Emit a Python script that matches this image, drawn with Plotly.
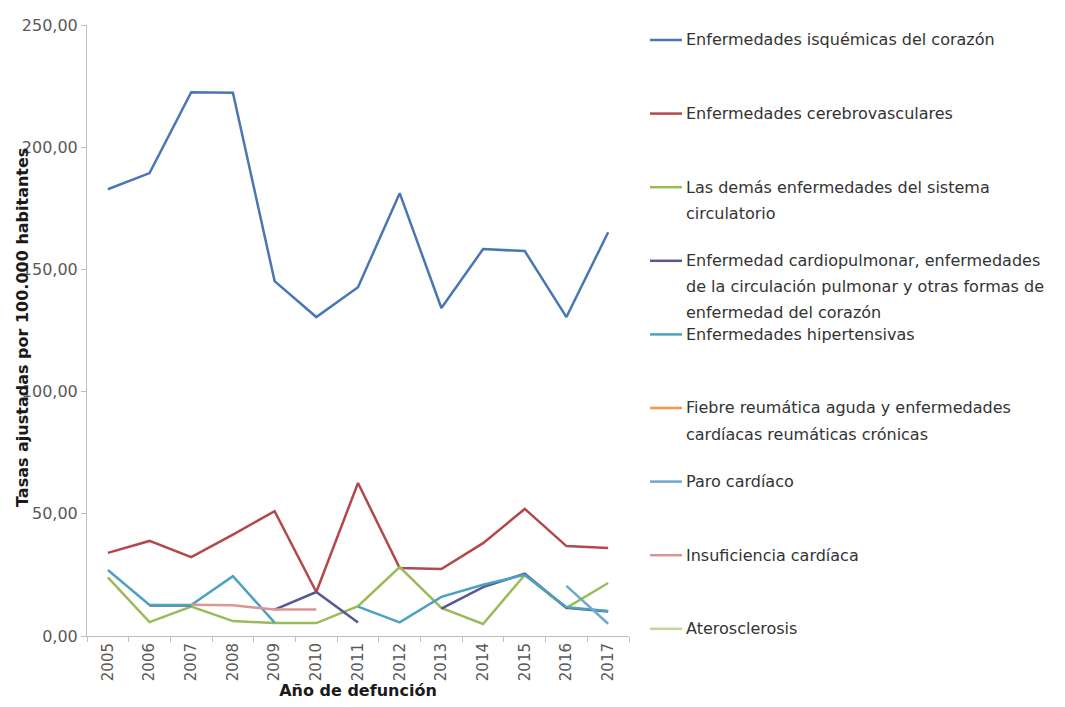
import plotly.graph_objects as go

# ====================================
# datos

anios = ['2005', '2006', '2007', '2008', '2009', '2010', '2011',
         '2012', '2013', '2014', '2015', '2016', '2017']

isquemicas = [182.8, 189.4, 222.5, 222.3, 145.2, 130.5, 142.7,
              181.2, 134.2, 158.3, 157.5, 130.5, 165.2]
cerebrovasculares = [34.0, 38.9, 32.3, 41.5, 51.1, 18.0, 62.6,
                     27.8, 27.4, 38.0, 52.0, 36.8, 36.0]
demas_circulatorio = [24.0, 5.7, 12.0, 6.1, 5.3, 5.3, 12.2,
                      28.2, 11.5, 4.9, 25.0, 11.5, 21.7]
cardiopulmonar = [None, 12.5, 12.5, None, 10.8, 18.0, 5.5,
                  None, 11.2, 20.0, 25.5, 11.5, 10.0]
hipertensivas = [27.0, 12.7, 12.7, 24.5, 5.5, None, 12.0,
                 5.6, 16.0, 21.0, 25.0, 11.8, 10.2]
fiebre_reumatica = [None] * 13
paro_cardiaco = [None, None, None, None, None, None, None,
                 None, None, None, None, 20.5, 5.0]
insuficiencia = [None, None, 12.8, 12.6, 10.8, 10.8, None,
                 None, None, None, None, None, None]
aterosclerosis = [None] * 13

series = [
    (['Enfermedades isquémicas del corazón'], isquemicas, '#4a76b4'),
    (['Enfermedades cerebrovasculares'], cerebrovasculares, '#b4474b'),
    (['Las demás enfermedades del sistema', 'circulatorio'], demas_circulatorio, '#9bbb59'),
    (['Enfermedad cardiopulmonar, enfermedades', 'de la circulación pulmonar y otras formas de',
      'enfermedad del corazón'], cardiopulmonar, '#56588f'),
    (['Enfermedades hipertensivas'], hipertensivas, '#4ba3c0'),
    (['Fiebre reumática aguda y enfermedades', 'cardíacas reumáticas crónicas'], fiebre_reumatica, '#f79646'),
    (['Paro cardíaco'], paro_cardiaco, '#6fa8c8'),
    (['Insuficiencia cardíaca'], insuficiencia, '#d99694'),
    (['Aterosclerosis'], aterosclerosis, '#c3d69b'),
]

# ====================================

fig = go.Figure()

for nombre, valores, color in series:
    fig.add_trace(
        go.Scatter(
            x=anios,
            y=valores,
            name=' '.join(nombre),
            mode='lines',
            line=dict(color=color, width=2.5),
            connectgaps=False,
            hovertemplate='%{x}: %{y:.2f}<extra></extra>'
        )
    )

# leyenda dibujada a mano (espaciado fijo como en Excel)
# posiciones en px de la ventana; la página añade 8 px de margen
desfase = 8
izq_px = 87
arriba_px = 25
ancho_px = 542
alto_px = 611
base_px = arriba_px + alto_px

def px_x(x):
    return (x - izq_px) / ancho_px

def px_y(y):
    return (base_px - y) / alto_px

anotaciones = []
formas = []
for i, (nombre, valores, color) in enumerate(series):
    y0 = 40 + i * 73.6
    formas.append(dict(
        type='line', xref='paper', yref='paper',
        x0=px_x(650), x1=px_x(682), y0=px_y(y0), y1=px_y(y0),
        line=dict(color=color, width=2.5)
    ))
    for j, linea in enumerate(nombre):
        anotaciones.append(dict(
            text=linea, xref='paper', yref='paper',
            x=px_x(684), y=px_y(y0 + j * 26),
            xanchor='left', yanchor='middle',
            showarrow=False,
            font=dict(size=16, color='#333333')
        ))

anotaciones.append(dict(
    text='<b>Tasas ajustadas por 100.000 habitantes</b>',
    xref='paper', yref='paper',
    x=px_x(22), y=px_y(328),
    xanchor='center', yanchor='middle',
    textangle=-90, showarrow=False,
    font=dict(size=16, color='#1a1a1a')
))

fig.update_xaxes(
    type='category',
    range=[-0.5, 12.5],
    tickangle=-90,
    ticks='outside',
    tickson='boundaries',
    ticklen=5,
    tickcolor='#bfbfbf',
    showline=True,
    linecolor='#bfbfbf',
    linewidth=1,
    showgrid=False,
    zeroline=False,
    tickfont=dict(size=15, color='#595959'),
    title=dict(text='<b>Año de defunción</b>', font=dict(size=16, color='#1a1a1a'), standoff=4),
    automargin=False
)
fig.update_yaxes(
    range=[0, 250],
    tickvals=[0, 50, 100, 150, 200, 250],
    tickformat='.2f',
    ticks='outside',
    ticklen=5,
    tickcolor='#bfbfbf',
    showline=True,
    linecolor='#bfbfbf',
    linewidth=1,
    showgrid=False,
    zeroline=False,
    tickfont=dict(size=16, color='#595959'),
    automargin=False
)

fig.update_layout(
    width=1065,
    height=707,
    separators=',.',
    showlegend=False,
    annotations=anotaciones,
    shapes=formas,
    font=dict(family='DejaVu Sans'),
    paper_bgcolor='white',
    plot_bgcolor='white',
    margin=dict(t=arriba_px - desfase, b=707 - base_px + desfase,
                l=izq_px - desfase, r=1065 - izq_px - ancho_px + desfase)
)

fig.write_html('out.html')
